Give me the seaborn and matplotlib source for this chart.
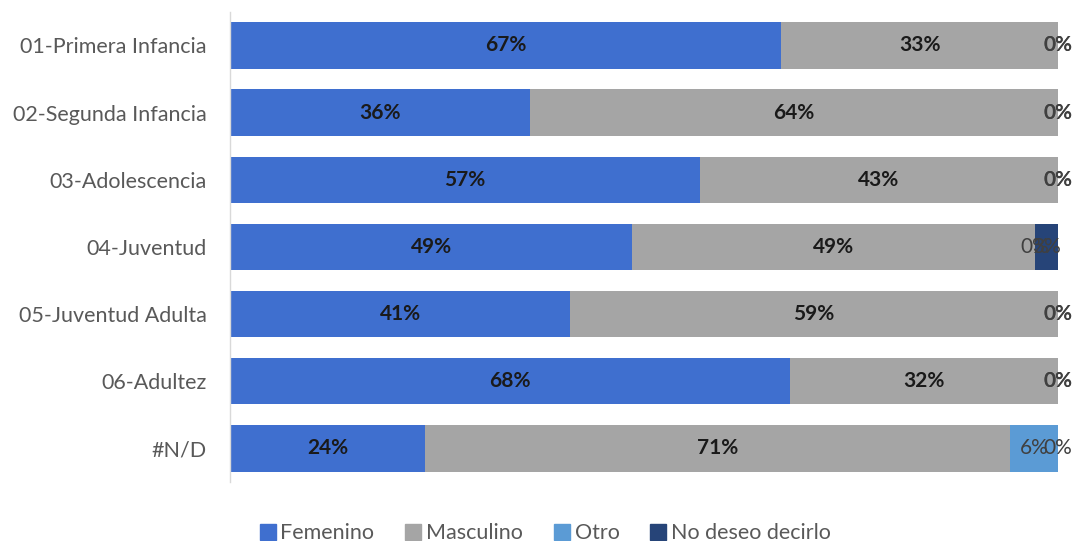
# Stacked horizontal bars: gender share per age group
import numpy as np
import matplotlib
matplotlib.use("Agg")
import matplotlib.pyplot as plt
from matplotlib.lines import Line2D
import seaborn as sns

# data (percent of each row)
categories = ["01-Primera Infancia", "02-Segunda Infancia", "03-Adolescencia",
              "04-Juventud", "05-Juventud Adulta", "06-Adultez", "#N/D"]
femenino = [66.6, 36.2, 56.8, 48.6, 41.1, 67.6, 23.6]
masculino = [33.4, 63.8, 43.2, 48.6, 58.9, 32.4, 70.6]
otro = [0, 0, 0, 0, 0, 0, 5.8]
no_deseo = [0, 0, 0, 2.8, 0, 0, 0]

series_names = ["Femenino", "Masculino", "Otro", "No deseo decirlo"]
series_colors = ["#3F6FCF", "#A5A5A5", "#5B9BD5", "#264478"]

sns.set_theme(style="white")
plt.rcParams["font.family"] = ["Lato", "DejaVu Sans"]

fig = plt.figure(figsize=(10.75, 5.41), dpi=100)
ax = fig.add_axes([0.214, 0.109, 0.770, 0.869])

series = [femenino, masculino, otro, no_deseo]
cum = np.cumsum(np.array(series), axis=0)

# draw from the full total down so each layer covers the previous one
for i in range(len(series) - 1, -1, -1):
    sns.barplot(x=cum[i], y=categories, color=series_colors[i], orient="h",
                width=0.69, saturation=1, linewidth=0, ax=ax)

# value labels
for i, vals in enumerate(series):
    for j, v in enumerate(vals):
        start = cum[i][j] - v
        xc = start + v / 2
        txt = f"{round(v):.0f}%"
        if i < 2:
            ax.text(xc, j, txt, ha="center", va="center", fontsize=15,
                    fontweight="bold", color="#1a1a1a")
        else:
            bold = v == 0 and i == 3 and cum[i][j] >= 99.9 and otro[j] == 0
            ax.text(xc, j, txt, ha="center", va="center", fontsize=15,
                    color="#404040", fontweight="bold" if bold else "normal")

ax.set_xlim(0, 100)
ax.set_xlabel("")
ax.set_ylabel("")
ax.set_xticks([])
ax.tick_params(axis="y", length=0, pad=17, labelsize=15.5, labelcolor="#595959")
for s in ["top", "right", "bottom"]:
    ax.spines[s].set_visible(False)
ax.spines["left"].set_color("#D9D9D9")
ax.spines["left"].set_linewidth(1)

handles = [Line2D([0], [0], marker="s", linestyle="", markersize=11,
                  markerfacecolor=c, markeredgecolor=c) for c in series_colors]
fig.legend(handles, series_names, loc="lower center", ncol=4, frameon=False,
           bbox_to_anchor=(0.505, -0.04), fontsize=15.5, labelcolor="#595959",
           handletextpad=0.0, columnspacing=1.2, handlelength=1.2)

fig.savefig("out.png", dpi=100)
